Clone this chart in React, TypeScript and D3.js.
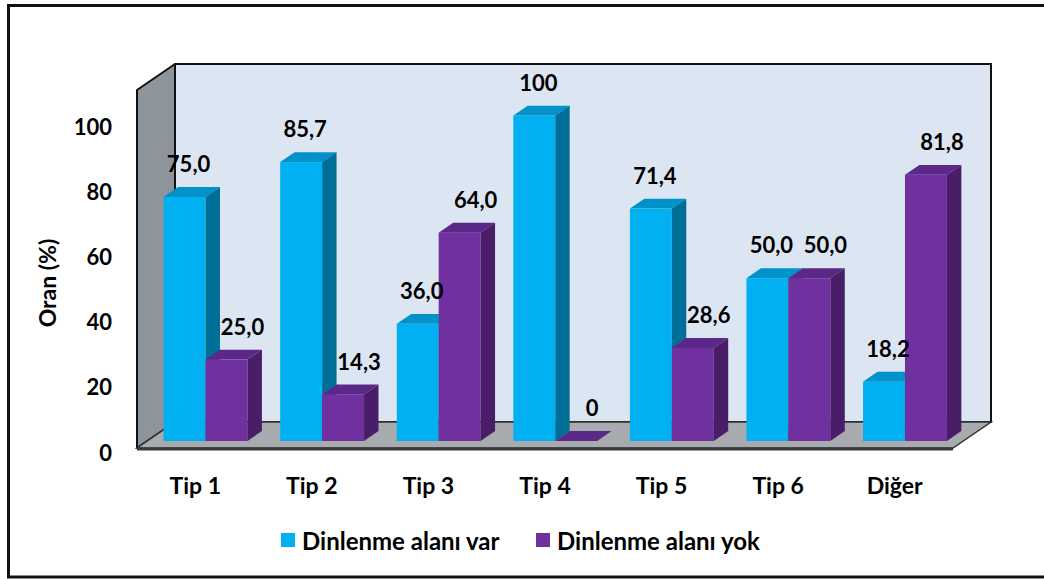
import React from 'react'
import * as d3 from 'd3'

const categories = ['Tip 1', 'Tip 2', 'Tip 3', 'Tip 4', 'Tip 5', 'Tip 6', 'Diğer']
const seriesNames = ['Dinlenme alanı var', 'Dinlenme alanı yok']
const varValues = [75.0, 85.7, 36.0, 100, 71.4, 50.0, 18.2]
const yokValues = [25.0, 14.3, 64.0, 0, 28.6, 50.0, 81.8]
const yTicks = [0, 20, 40, 60, 80, 100]

const W = 1044
const H = 579
const FONT = 'Lato, "Open Sans", sans-serif'

// front plane of the 3d box
const x0 = 137
const x1 = 953
const depth = [38, -26]
const barFront = 0.27
const barBack = 0.65

const colors = [
  { front: '#00B0F0', top: '#0092C8', side: '#006F98', labelDx: 4 },
  { front: '#7030A0', top: '#5B2788', side: '#4A1D68', labelDx: 16 },
]

const x = d3.scaleBand<string>().domain(categories).range([x0, x1]).padding(0)
const xs = d3
  .scaleBand<number>()
  .domain([0, 1])
  .range([0, x.bandwidth()])
  .paddingInner(0)
  .paddingOuter(0.39)
const y = d3.scaleLinear().domain([0, 110]).range([448, 90])

const fmt = (v: number) => (v === 0 || v === 100 ? String(v) : v.toFixed(1).replace('.', ','))
const pts = (p: number[][]) => p.map((q) => q.join(',')).join(' ')

const App = () => {
  const [dx, dy] = depth
  const fx = dx * barFront
  const fy = dy * barFront
  const sx = dx * (barBack - barFront)
  const sy = dy * (barBack - barFront)
  const bw = xs.bandwidth()
  const yTop = y(110)
  const yBase = y(0)

  const bars: any[] = []
  const labels: any[] = []
  categories.forEach((c, i) => {
    ;[varValues[i], yokValues[i]].forEach((v, s) => {
      const left = (x(c) as number) + (xs(s) as number) + fx
      const right = left + bw
      const top = y(v) + fy
      const bottom = yBase + fy
      const col = colors[s]
      bars.push(
        <g key={`${c}-${s}`}>
          <rect x={left} y={top} width={bw} height={bottom - top} fill={col.front} />
          <polygon
            points={pts([
              [left, top],
              [right, top],
              [right + sx, top + sy],
              [left + sx, top + sy],
            ])}
            fill={col.top}
          />
          <polygon
            points={pts([
              [right, top],
              [right + sx, top + sy],
              [right + sx, bottom + sy],
              [right, bottom],
            ])}
            fill={col.side}
          />
        </g>
      )
      labels.push(
        <text
          key={`l-${c}-${s}`}
          x={left + bw / 2 + col.labelDx}
          y={top + sy - 15}
          textAnchor="middle"
          fontSize={22}
          fontWeight={700}
          fontFamily={FONT}
          fill="#000"
        >
          {fmt(v)}
        </text>
      )
    })
  })

  return (
    <svg width={W} height={H} style={{ position: 'absolute', left: 0, top: 0 }}>
      <rect x={0} y={0} width={W} height={H} fill="#fff" />
      <rect x={8.5} y={5.5} width={W + 10} height={571.5} fill="none" stroke="#111" strokeWidth={3} />

      {/* back wall */}
      <rect
        x={x0 + dx}
        y={yTop + dy}
        width={x1 - x0}
        height={yBase - yTop}
        fill="#DCE6F2"
        stroke="#111"
        strokeWidth={2}
      />
      {/* left wall */}
      <polygon
        points={pts([
          [x0, yTop],
          [x0 + dx, yTop + dy],
          [x0 + dx, yBase + dy],
          [x0, yBase],
        ])}
        fill="#8D949B"
        stroke="#111"
        strokeWidth={2}
        strokeLinejoin="round"
      />
      {/* floor */}
      <polygon
        points={pts([
          [x0, yBase],
          [x1, yBase],
          [x1 + dx, yBase + dy],
          [x0 + dx, yBase + dy],
        ])}
        fill="#A7ABAF"
        stroke="#333"
        strokeWidth={1.5}
      />
      <line x1={x0} x2={x1} y1={yBase + 1} y2={yBase + 1} stroke="#3a3a3a" strokeWidth={3} />

      {bars}
      {labels}

      {yTicks.map((t) => (
        <text
          key={t}
          x={112}
          y={y(t) + 4}
          textAnchor="end"
          dominantBaseline="central"
          fontSize={22}
          fontWeight={700}
          fontFamily={FONT}
        >
          {t}
        </text>
      ))}
      <text
        transform="translate(47,283) rotate(-90)"
        textAnchor="middle"
        dominantBaseline="central"
        fontSize={23}
        fontWeight={700}
        fontFamily={FONT}
      >
        Oran (%)
      </text>

      {categories.map((c) => (
        <text
          key={c}
          x={(x(c) as number) + x.bandwidth() / 2}
          y={485}
          textAnchor="middle"
          dominantBaseline="central"
          fontSize={23}
          fontWeight={700}
          fontFamily={FONT}
        >
          {c}
        </text>
      ))}

      {seriesNames.map((n, i) => (
        <g key={n} transform={`translate(${281 + i * 255},533)`}>
          <rect width={14} height={14} fill={colors[i].front} />
          <text x={21} y={7} dominantBaseline="central" fontSize={24} fontWeight={700} fontFamily={FONT}>
            {n}
          </text>
        </g>
      ))}
    </svg>
  )
}

export default App
